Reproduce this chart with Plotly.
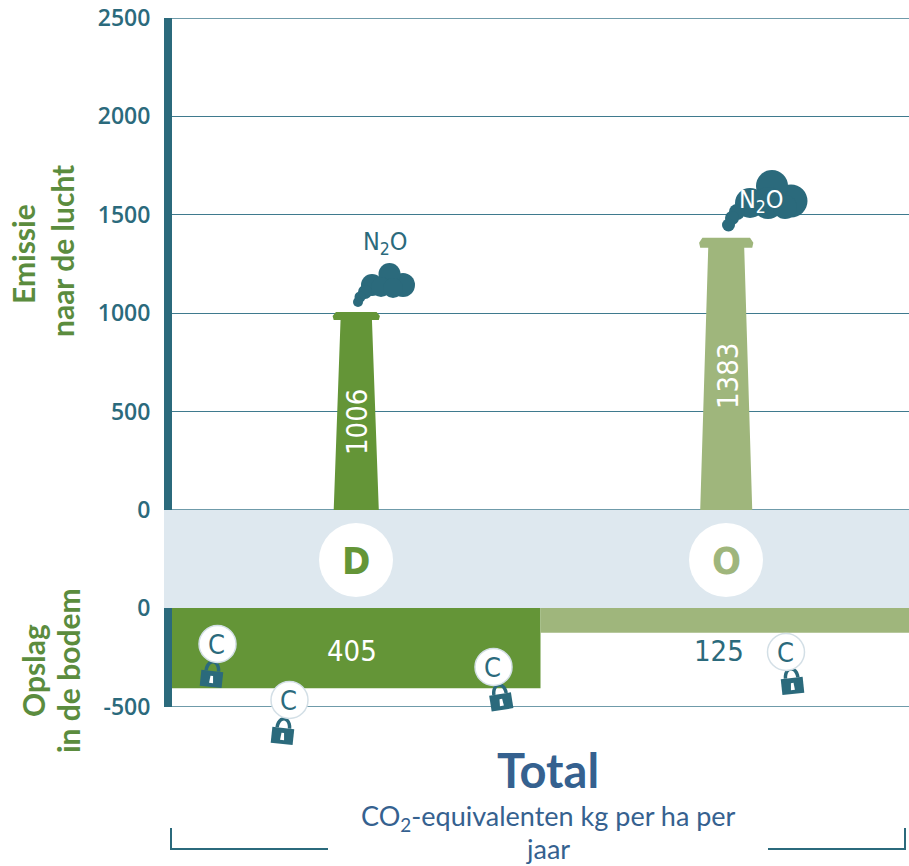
import math
import plotly.graph_objects as go

W, H = 909, 866
categories = ["D", "O"]
emission = [1006, 1383]
storage = [-405, -125]
emission_ticks = [0, 500, 1000, 1500, 2000, 2500]
storage_ticks = [-500, 0]
colors = ["#649537", "#9FB67C"]
TEAL = "#2B6A7C"
GREEN = "#5B8C3E"
BLUE = "#35618F"
GRID = "#3F7A8E"
NARROW = "DejaVu Sans Condensed, Open Sans, sans-serif"
LATO = "Lato, sans-serif"


def px(x):
    return x / W


def py(y):
    return 1 - y / H


fig = go.Figure()

# chimneys, built from the emission values
chimney_pos = [0, 1.004]
base_half = [0.0612, 0.0706]
neck_half = [0.0426, 0.0488]
cap_h = [40, 50]
for i, cat in enumerate(categories):
    c, v, b, n, h = chimney_pos[i], emission[i], base_half[i], neck_half[i], cap_h[i]
    e = 0.006
    xs = [c - b, c - n, c - b, c - b - e / 2, c - b + e, c + b - e, c + b + e / 2, c + b, c + n, c + b, c - b]
    ys = [0, v - h, v - h, v - h / 2, v, v, v - h / 2, v - h, v - h, 0, 0]
    fig.add_trace(go.Scatter(x=xs, y=ys, mode="lines", fill="toself", fillcolor=colors[i],
                             line=dict(width=0, color=colors[i]), hoverinfo="skip",
                             showlegend=False, xaxis="x", yaxis="y"))

# soil storage bars
fig.add_trace(go.Bar(x=[0, 1], y=storage, width=1, marker=dict(color=colors, line=dict(width=0)),
                     hoverinfo="skip", showlegend=False, xaxis="x2", yaxis="y2"))

shapes = []


def circle(cx, cy, r, fill, line=None, ry=None):
    ry = ry or r
    shapes.append(dict(type="circle", xref="paper", yref="paper", x0=px(cx - r), x1=px(cx + r),
                       y0=py(cy + ry), y1=py(cy - ry), fillcolor=fill,
                       line=dict(width=1.5 if line else 0, color=line or fill)))


def cloud(items):
    for cx, cy, r in items:
        circle(cx, cy, r, TEAL)


def lock(cx, cy, deg):
    a = math.radians(deg)

    def t(x, y):
        return (px(cx + x * math.cos(a) - y * math.sin(a)), py(cy + x * math.sin(a) + y * math.cos(a)))

    def path(points):
        return "M " + " L ".join("%.5f,%.5f" % t(*p) for p in points) + " Z"

    body = [(-11, -3), (11, -3), (11, 13), (-11, 13)]
    keyhole = [(-1.3, 2), (1.3, 2), (2, 9), (-2, 9)]
    outer = [(8 * math.cos(math.pi + k * math.pi / 12), -3 + 11 * math.sin(math.pi + k * math.pi / 12)) for k in range(13)]
    inner = [(4.5 * math.cos(k * math.pi / 12), -3 - 7.5 * math.sin(k * math.pi / 12)) for k in range(13)]
    shapes.append(dict(type="path", xref="paper", yref="paper", path=path(outer + inner), fillcolor=TEAL, line=dict(width=0)))
    shapes.append(dict(type="path", xref="paper", yref="paper", path=path(body), fillcolor=TEAL, line=dict(width=0)))
    shapes.append(dict(type="path", xref="paper", yref="paper", path=path(keyhole), fillcolor="white", line=dict(width=0)))


# pale band between the two panels
shapes.append(dict(type="rect", xref="paper", yref="paper", x0=px(164), x1=1, y0=py(608), y1=py(510),
                   fillcolor="#DEE8EF", line=dict(width=0), layer="below"))

# grid lines that the axis would otherwise drop at its range ends
for yref, xdom, val in (("y", "x domain", emission_ticks[-1]), ("y", "x domain", emission_ticks[0]), ("y2", "x2 domain", storage_ticks[0])):
    shapes.append(dict(type="line", xref=xdom, yref=yref, x0=0, x1=1, y0=val, y1=val,
                       line=dict(color=GRID, width=1.5), layer="below"))

# category discs
circle(356, 560, 37, "white")
circle(726, 560, 37, "white")

# clouds
cloud([(403, 285, 12), (389.5, 274, 11), (372, 285, 11), (381, 287, 10), (393, 288, 10),
       (365, 292, 7), (360, 297, 5.5), (358, 302, 5)])
cloud([(791, 201, 16.5), (772, 186, 16), (750, 203, 15), (768, 203, 16), (785, 207, 12),
       (737, 212, 8), (732, 218, 7), (728.5, 225, 6.5)])

# carbon discs and locks
carbon = [(217.5, 644, 212, 674, 6), (289.5, 700, 283, 731, 6), (493.5, 667, 500.5, 697, -9), (786, 652, 792, 681, -6)]
for ccx, ccy, lx, ly, deg in carbon:
    lock(lx, ly, deg)
    circle(ccx, ccy, 18.5, "white", "#D3DFE6")

# brackets under the chart
for pts in ([(171, 828), (171, 849), (328, 849)], [(768, 849), (905, 849), (905, 828)]):
    shapes.append(dict(type="path", xref="paper", yref="paper",
                       path="M " + " L ".join("%.5f,%.5f" % (px(a), py(b)) for a, b in pts),
                       line=dict(color=TEAL, width=2)))

ann = []


def text(s, x, y, size, color, family=NARROW, angle=0, bold=False):
    if bold:
        s = "<b>" + s + "</b>"
    ann.append(dict(text=s, x=px(x), y=py(y), xref="paper", yref="paper", xanchor="center", yanchor="middle",
                    showarrow=False, textangle=angle, font=dict(size=size, color=color, family=family)))


text(categories[0], 356, 561, 38, colors[0], bold=True)
text(categories[1], 726, 561, 38, colors[1], bold=True)
text(str(emission[0]), 357, 422, 29, "white", angle=-90)
text(str(emission[1]), 728, 376, 29, "white", angle=-90)
text(str(abs(storage[0])), 352, 651, 29, "white")
text(str(abs(storage[1])), 719, 651, 29, TEAL)
text("N<sub>2</sub>O", 385, 243, 25, TEAL)
text("N<sub>2</sub>O", 761, 201, 25, "white")
for ccx, ccy, lx, ly, deg in carbon:
    text("C", ccx - 1, ccy, 27, TEAL)
text("Emissie", 23, 254, 30, GREEN, LATO, -90, True)
text("naar de lucht", 62, 251, 30, GREEN, LATO, -90, True)
text("Opslag", 33, 671, 30, GREEN, LATO, -90, True)
text("in de bodem", 68, 671, 30, GREEN, LATO, -90, True)
text("Total", 548, 770, 47, BLUE, LATO, 0, True)
text("CO<sub>2</sub>-equivalenten kg per ha per", 548, 817, 27, BLUE, LATO)
text("jaar", 548, 848, 27, BLUE, LATO)

yax = dict(showline=True, linewidth=8, linecolor=TEAL, showgrid=True, gridcolor=GRID, gridwidth=1.2,
           ticks="", ticklabelstandoff=9, tickfont=dict(size=23, color=TEAL, family="Open Sans, sans-serif", weight=600),
           zeroline=False, fixedrange=True, tickmode="array", automargin=False)

fig.update_layout(
    width=W, height=H, autosize=False, margin=dict(l=0, r=0, t=0, b=0),
    paper_bgcolor="white", plot_bgcolor="rgba(0,0,0,0)", showlegend=False,
    xaxis=dict(domain=[172 / W, 1], range=[-0.5, 1.5], visible=False, fixedrange=True, automargin=False),
    xaxis2=dict(domain=[172 / W, 1], range=[-0.5, 1.5], visible=False, fixedrange=True, anchor="y2", automargin=False),
    yaxis=dict(domain=[py(510), py(18)], range=[0, 2500], tickvals=emission_ticks,
               ticktext=[str(t) for t in emission_ticks], anchor="x", **yax),
    yaxis2=dict(domain=[py(707), py(608)], range=[-500, 0], tickvals=storage_ticks,
                ticktext=[str(t) for t in storage_ticks], anchor="x2", **yax),
    shapes=shapes, annotations=ann,
)
fig.write_html("out.html", config={"displayModeBar": False},
               post_script="document.body.style.margin='0';document.documentElement.style.overflow='hidden';")
